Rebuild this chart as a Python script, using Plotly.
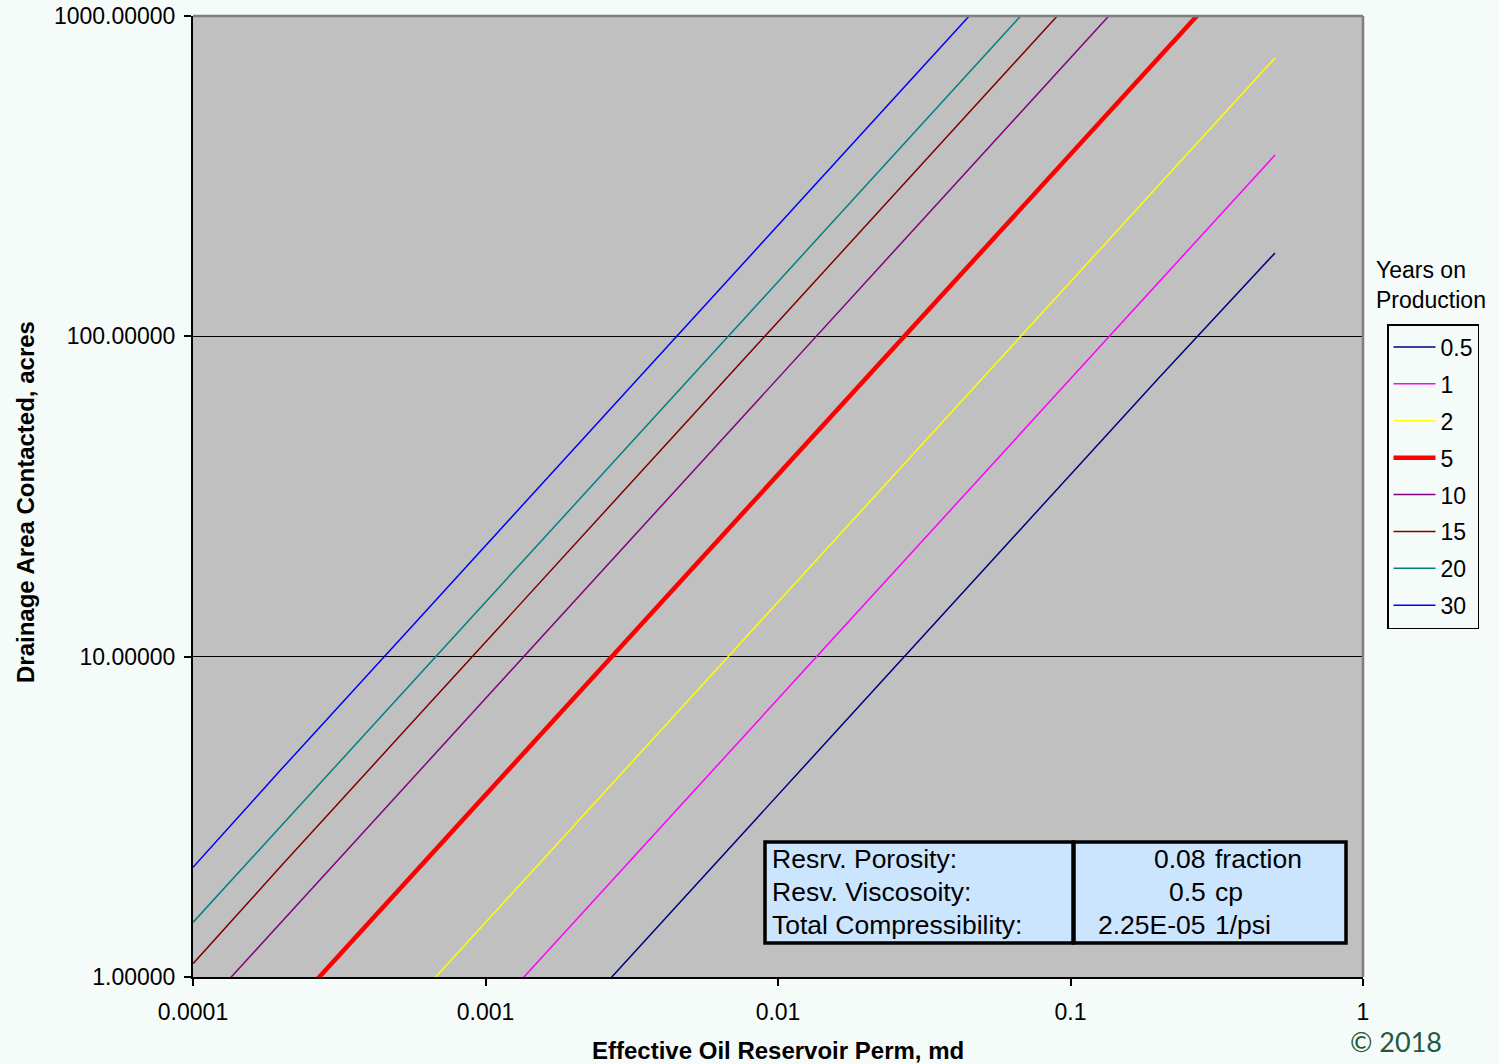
import plotly.graph_objects as go

# Effective oil permeability, md
perm = [0.0001, 0.0002, 0.0005, 0.001, 0.002, 0.005, 0.01, 0.02, 0.05, 0.1, 0.2, 0.5]

# Drainage area contacted (acres) for each production time
years = ["0.5", "1", "2", "5", "10", "15", "20", "30"]
area_0_5 = [0.037, 0.074, 0.185, 0.37, 0.74, 1.85, 3.7, 7.4, 18.5, 37, 74, 182]
area_1 = [0.074, 0.148, 0.37, 0.74, 1.48, 3.7, 7.4, 14.8, 37, 74, 148, 368]
area_2 = [0.148, 0.296, 0.74, 1.48, 2.96, 7.4, 14.8, 29.6, 74, 148, 296, 740]
area_5 = [0.37, 0.74, 1.85, 3.7, 7.4, 18.5, 37, 74, 185, 370, 740, 1850]
area_10 = [0.74, 1.48, 3.7, 7.4, 14.8, 37, 74, 148, 370, 740, 1480, 3700]
area_15 = [1.1, 2.22, 5.55, 11.1, 22.2, 55.5, 111, 222, 555, 1110, 2220, 5550]
area_20 = [1.48, 2.96, 7.4, 14.8, 29.6, 74, 148, 296, 740, 1480, 2960, 7400]
area_30 = [2.2, 4.44, 11.1, 22.2, 44.4, 111, 222, 444, 1110, 2220, 4440, 11100]
areas = [area_0_5, area_1, area_2, area_5, area_10, area_15, area_20, area_30]

colors = ["#000080", "#FF00FF", "#FFFF00", "#FF0000", "#800080", "#800000", "#008080", "#0000FF"]
widths = [1.5, 1.5, 1.5, 4.5, 1.5, 1.5, 1.5, 1.5]

# Reservoir parameters table
param_names = ["Resrv. Porosity:", "Resv. Viscosoity:", "Total Compressibility:"]
param_values = ["0.08", "0.5", "2.25E-05"]
param_units = ["fraction", "cp", "1/psi"]

x_tickvals = [0.0001, 0.001, 0.01, 0.1, 1]
x_ticktext = ["0.0001", "0.001", "0.01", "0.1", "1"]
y_tickvals = [1, 10, 100, 1000]
y_ticktext = ["1.00000", "10.00000", "100.00000", "1000.00000"]

W, H = 1499, 1064
L, R, T, B = 193, 136, 16, 87
PW, PH = W - L - R, H - T - B


def px(x):
    return (x - L) / PW


def py(y):
    return (H - B - y) / PH


fig = go.Figure()
for name, a, c, w in zip(years, areas, colors, widths):
    fig.add_trace(go.Scatter(x=perm, y=a, mode="lines", name=name,
                             line=dict(color=c, width=w), legendgroup=name))

font_main = "Liberation Sans, Arial, sans-serif"

shapes = [
    # top and right frame of plot area
    dict(type="line", xref="paper", yref="paper", x0=0, x1=1, y0=1, y1=1,
         line=dict(color="#808080", width=2.5), layer="above"),
    dict(type="line", xref="paper", yref="paper", x0=1, x1=1, y0=0, y1=1,
         line=dict(color="#808080", width=2.5), layer="above"),
    # parameter table cells
    dict(type="rect", xref="paper", yref="paper", x0=px(765), x1=px(1073), y0=py(943), y1=py(842),
         line=dict(color="black", width=3.5), fillcolor="#CCE5FF", layer="above"),
    dict(type="rect", xref="paper", yref="paper", x0=px(1074), x1=px(1346), y0=py(943), y1=py(842),
         line=dict(color="black", width=3.5), fillcolor="#CCE5FF", layer="above"),
]

annotations = []
row_y = [859, 892, 925]
tfont = dict(family=font_main, size=26.5, color="black")
for ry, n, v, u in zip(row_y, param_names, param_values, param_units):
    annotations.append(dict(xref="paper", yref="paper", x=px(770), y=py(ry), text=n,
                            showarrow=False, xanchor="left", yanchor="middle", font=tfont))
    annotations.append(dict(xref="paper", yref="paper", x=px(1208), y=py(ry), text=v,
                            showarrow=False, xanchor="right", yanchor="middle", font=tfont))
    annotations.append(dict(xref="paper", yref="paper", x=px(1213), y=py(ry), text=u,
                            showarrow=False, xanchor="left", yanchor="middle", font=tfont))

# legend heading
annotations.append(dict(xref="paper", yref="paper", x=px(1374), y=py(255), text="Years on<br>Production",
                        showarrow=False, xanchor="left", yanchor="top", align="left",
                        font=dict(family=font_main, size=23, color="black")))
# axis titles
annotations.append(dict(xref="paper", yref="paper", x=px(778), y=py(1050),
                        text="<b>Effective Oil Reservoir Perm, md</b>",
                        showarrow=False, xanchor="center", yanchor="middle",
                        font=dict(family=font_main, size=24, color="black")))
annotations.append(dict(xref="paper", yref="paper", x=px(25), y=py(502),
                        text="<b>Drainage Area Contacted, acres</b>", textangle=-90,
                        showarrow=False, xanchor="center", yanchor="middle",
                        font=dict(family=font_main, size=24, color="black")))
annotations.append(dict(xref="paper", yref="paper", x=px(1396), y=py(1041), text="© 2018",
                        showarrow=False, xanchor="center", yanchor="middle",
                        font=dict(family="Lato, Open Sans, sans-serif", size=27, color="#1E5A3C")))

fig.update_layout(
    width=W, height=H,
    margin=dict(l=L, r=R, t=T, b=B, autoexpand=False),
    paper_bgcolor="#F5FBF9",
    plot_bgcolor="#C0C0C0",
    font=dict(family=font_main, size=23, color="black"),
    shapes=shapes,
    annotations=annotations,
    showlegend=True,
    legend=dict(x=px(1387), y=py(324), xanchor="left", yanchor="top",
                bgcolor="rgba(0,0,0,0)", bordercolor="black", borderwidth=1.5,
                font=dict(family=font_main, size=23, color="black"),
                traceorder="grouped", tracegroupgap=4, itemwidth=42),
    xaxis=dict(type="log", range=[-4, 0], tickvals=x_tickvals, ticktext=x_ticktext,
               automargin=False,
               showgrid=False, zeroline=False, showline=True, linecolor="black", linewidth=2,
               ticks="outside", ticklen=7, tickwidth=2, tickcolor="black",
               tickfont=dict(size=23), ticklabelstandoff=6),
    yaxis=dict(type="log", range=[0, 3], tickvals=y_tickvals, ticktext=y_ticktext,
               automargin=False,
               showgrid=True, gridcolor="black", gridwidth=1.2, zeroline=False,
               showline=True, linecolor="black", linewidth=2,
               ticks="outside", ticklen=7, tickwidth=2, tickcolor="black",
               tickfont=dict(size=23), ticklabelstandoff=4),
)

fig.write_html("out.html")
